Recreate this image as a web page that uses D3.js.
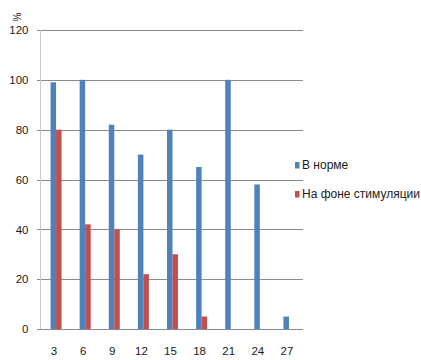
<!DOCTYPE html>
<html>
<head>
<meta charset="utf-8">
<script src="https://cdn.jsdelivr.net/npm/d3@7"></script>
<style>
  html, body { margin: 0; padding: 0; background: #fff; }
  svg { display: block; font-family: "Liberation Sans", Arial, sans-serif; }
</style>
</head>
<body>
<svg id="chart" width="421" height="360"></svg>
<script>
// Categories along the x axis
const categories = ["3", "6", "9", "12", "15", "18", "21", "24", "27"];
// Series values, %
const normValues = [99, 100, 82, 70, 80, 65, 100, 58, 5];
const stimValues = [80, 42, 40, 22, 30, 5, 0, 0, 0];
const seriesNames = ["В норме", "На фоне стимуляции"];
const seriesColors = ["#4F81BD", "#C0504D"];
const yTicks = [0, 20, 40, 60, 80, 100, 120];
const yTitle = "%";

const svg = d3.select("#chart");
const plot = { left: 40.5, right: 302.5, top: 30, bottom: 329 };

const x = d3.scaleBand().domain(categories).range([plot.left, plot.right]).padding(0);
const y = d3.scaleLinear().domain([0, 120]).range([plot.bottom, plot.top]);

const groupWidth = 11;
const sub = d3.scaleBand().domain([0, 1]).range([0, groupWidth]).padding(0);

// Horizontal gridlines with short tick stubs on the left
const yAxis = d3.axisLeft(y).tickValues(yTicks).tickSize(-(plot.right - plot.left)).tickSizeOuter(0).tickPadding(0);
const gy = svg.append("g").attr("transform", `translate(${plot.left},0)`).call(yAxis);
gy.select(".domain").remove();
gy.selectAll(".tick line")
  .attr("x1", -3.5)
  .attr("stroke", "#8a8a8a")
  .attr("stroke-width", 1)
  .attr("shape-rendering", "crispEdges");
gy.selectAll(".tick text")
  .attr("x", -12)
  .attr("fill", "#1a1a1a")
  .attr("font-size", 11.5);

// Vertical axis line
svg.append("line")
  .attr("x1", plot.left).attr("x2", plot.left)
  .attr("y1", plot.top).attr("y2", plot.bottom)
  .attr("stroke", "#c8c8c8")
  .attr("shape-rendering", "crispEdges");

// Bars
const rows = categories.map((c, i) => ({ c, vals: [normValues[i], stimValues[i]] }));
const groups = svg.append("g").selectAll("g").data(rows).join("g")
  .attr("transform", d => `translate(${x(d.c) + x.bandwidth() / 2 - groupWidth / 2 + 1},0)`);
groups.selectAll("rect").data(d => d.vals.map((v, k) => ({ v, k }))).join("rect")
  .attr("x", d => sub(d.k))
  .attr("width", sub.bandwidth())
  .attr("y", d => y(d.v))
  .attr("height", d => y(0) - y(d.v))
  .attr("fill", d => seriesColors[d.k]);

// Baseline redrawn over the bars
svg.append("line")
  .attr("x1", plot.left - 3.5).attr("x2", plot.right)
  .attr("y1", y(0)).attr("y2", y(0))
  .attr("stroke", "#8a8a8a")
  .attr("shape-rendering", "crispEdges");

// X axis labels
const xAxis = d3.axisBottom(x).tickSize(0).tickPadding(18);
const gx = svg.append("g").attr("transform", `translate(-1,${plot.bottom})`).call(xAxis);
gx.select(".domain").remove();
gx.selectAll(".tick text").attr("fill", "#1a1a1a").attr("font-size", 11.5);

// Axis title, rotated
svg.append("text")
  .attr("transform", "translate(21,17) rotate(-90)")
  .attr("text-anchor", "middle")
  .attr("font-size", 10)
  .attr("fill", "#1a1a1a")
  .text(yTitle);

// Legend
const legend = svg.append("g").attr("transform", "translate(295,165)");
const items = legend.selectAll("g").data(seriesNames).join("g")
  .attr("transform", (d, i) => `translate(0,${i * 29})`);
items.append("rect")
  .attr("x", 0).attr("y", -3).attr("width", 4.5).attr("height", 6.5)
  .attr("fill", (d, i) => seriesColors[i]);
items.append("text")
  .attr("x", 7).attr("y", 0).attr("dy", "0.35em")
  .attr("font-size", 12)
  .attr("fill", "#1a1a1a")
  .text(d => d);
</script>
</body>
</html>
